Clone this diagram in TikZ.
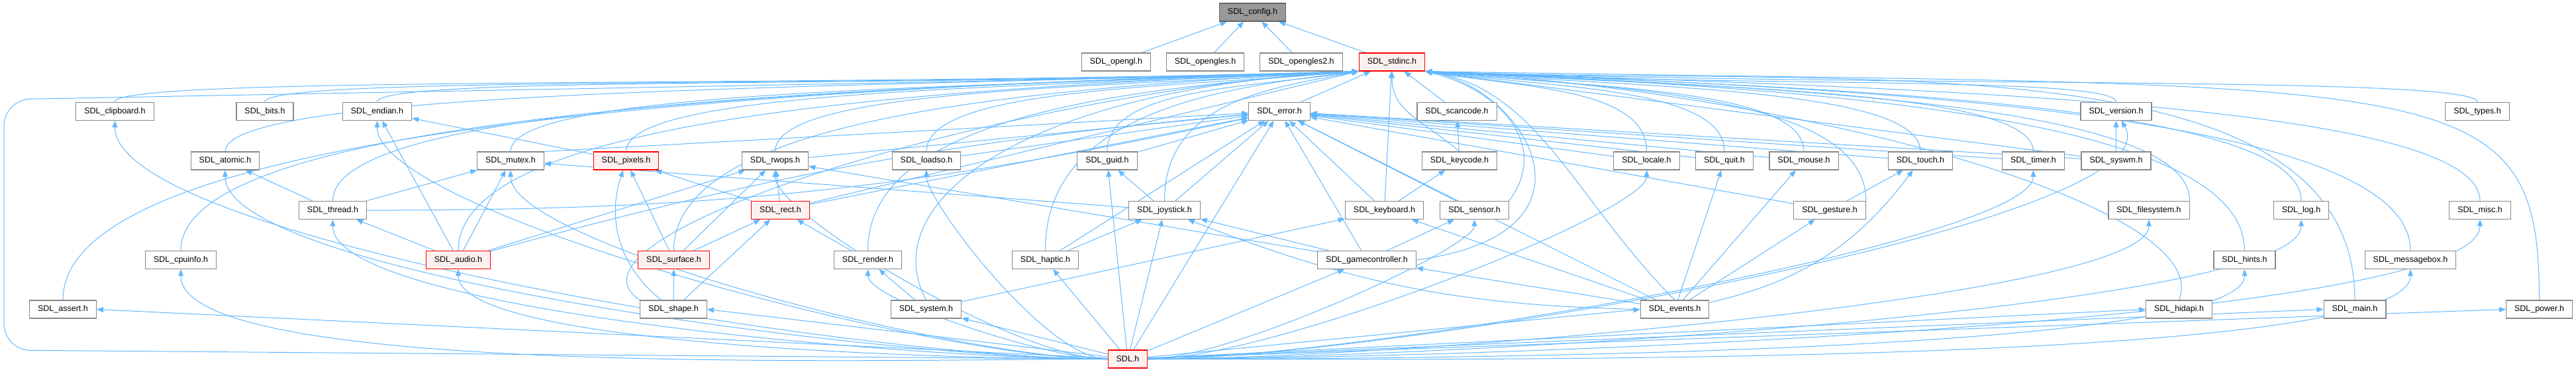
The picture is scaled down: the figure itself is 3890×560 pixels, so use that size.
\documentclass[tikz,border=0pt]{standalone}
\usepackage{fontspec}
\setmainfont{Liberation Sans}
\usepackage{tikz}
\usetikzlibrary{arrows.meta}
\definecolor{linkblue}{HTML}{63B8FF}
\definecolor{boxgray}{HTML}{888888}
\definecolor{cutred}{HTML}{FF0000}
\definecolor{cutfill}{HTML}{FFF0F0}
\definecolor{rootfill}{HTML}{999999}
\definecolor{rootedge}{HTML}{666666}
\pgfdeclarelayer{edges}
\pgfsetlayers{edges,main}

\begin{document}
\begin{tikzpicture}[
  x=0.25pt, y=0.25pt,
  hdr/.style={rectangle, draw=boxgray, fill=white, line width=0.3pt, minimum height=6.75pt, inner xsep=3.125pt, inner ysep=0pt, font=\fontsize{3.125}{3.6}\selectfont},
  cut/.style={hdr, draw=cutred, fill=cutfill},
  root/.style={hdr, draw=rootedge, fill=rootfill},
  dep/.style={draw=linkblue, line width=0.25pt, -{Triangle[length=2.5pt,width=2pt]}},
  lfan/.style={out=180, in=-90, out looseness=0.6, in looseness=0.3},
  rfan/.style={out=0, in=-90, out looseness=0.6, in looseness=0.2}
]
\useasboundingbox (0,0) rectangle (3890,-560);
\node[root] (config) at (1891.5,-18.5) {SDL\_config.h};
\node[hdr] (opengl) at (1685.5,-93.5) {SDL\_opengl.h};
\node[hdr] (opengles) at (1820,-93.5) {SDL\_opengles.h};
\node[hdr] (opengles2) at (1965,-93.5) {SDL\_opengles2.h};
\node[cut] (stdinc) at (2102,-93.5) {SDL\_stdinc.h};
\node[hdr] (clipboard) at (173.5,-168) {SDL\_clipboard.h};
\node[hdr] (bits) at (400,-168) {SDL\_bits.h};
\node[hdr] (endian) at (569.5,-168) {SDL\_endian.h};
\node[hdr] (error) at (1932,-168) {SDL\_error.h};
\node[hdr] (scancode) at (2200,-168) {SDL\_scancode.h};
\node[hdr] (version) at (3195.5,-168) {SDL\_version.h};
\node[hdr] (types) at (3741,-168) {SDL\_types.h};
\node[hdr] (atomic) at (340,-242.5) {SDL\_atomic.h};
\node[hdr] (mutex) at (771,-242.5) {SDL\_mutex.h};
\node[cut] (pixels) at (945.5,-242.5) {SDL\_pixels.h};
\node[hdr] (rwops) at (1170.5,-242.5) {SDL\_rwops.h};
\node[hdr] (loadso) at (1399,-242.5) {SDL\_loadso.h};
\node[hdr] (guid) at (1672,-242.5) {SDL\_guid.h};
\node[hdr] (keycode) at (2204,-242.5) {SDL\_keycode.h};
\node[hdr] (locale) at (2486.5,-242.5) {SDL\_locale.h};
\node[hdr] (quit) at (2604,-242.5) {SDL\_quit.h};
\node[hdr] (mouse) at (2724,-242.5) {SDL\_mouse.h};
\node[hdr] (touch) at (2900,-242.5) {SDL\_touch.h};
\node[hdr] (timer) at (3070.5,-242.5) {SDL\_timer.h};
\node[hdr] (syswm) at (3195.5,-242.5) {SDL\_syswm.h};
\node[hdr] (thread) at (502.5,-317) {SDL\_thread.h};
\node[cut] (rect) at (1178.5,-317) {SDL\_rect.h};
\node[hdr] (joystick) at (1758.5,-317) {SDL\_joystick.h};
\node[hdr] (keyboard) at (2090.5,-317) {SDL\_keyboard.h};
\node[hdr] (sensor) at (2226.5,-317) {SDL\_sensor.h};
\node[hdr] (gesture) at (2763,-317) {SDL\_gesture.h};
\node[hdr] (filesystem) at (3245,-317) {SDL\_filesystem.h};
\node[hdr] (log) at (3475,-317) {SDL\_log.h};
\node[hdr] (misc) at (3745,-317) {SDL\_misc.h};
\node[hdr] (cpuinfo) at (273,-392) {SDL\_cpuinfo.h};
\node[cut] (audio) at (692,-392) {SDL\_audio.h};
\node[cut] (surface) at (1017.5,-392) {SDL\_surface.h};
\node[hdr] (render) at (1310.5,-392) {SDL\_render.h};
\node[hdr] (haptic) at (1578.5,-392) {SDL\_haptic.h};
\node[hdr] (gamecontroller) at (2064,-392) {SDL\_gamecontroller.h};
\node[hdr] (hints) at (3389.5,-392) {SDL\_hints.h};
\node[hdr] (messagebox) at (3640,-392) {SDL\_messagebox.h};
\node[hdr] (assert) at (95,-466.5) {SDL\_assert.h};
\node[hdr] (shape) at (1017,-466.5) {SDL\_shape.h};
\node[hdr] (system) at (1398.5,-466.5) {SDL\_system.h};
\node[hdr] (events) at (2529,-466.5) {SDL\_events.h};
\node[hdr] (hidapi) at (3290.5,-466.5) {SDL\_hidapi.h};
\node[hdr] (main) at (3556,-466.5) {SDL\_main.h};
\node[hdr] (power) at (3834.5,-466.5) {SDL\_power.h};
\node[cut] (SDL) at (1703,-541.5) {SDL.h};
\begin{pgfonlayer}{edges}
\draw[dep] (opengl) -- (config);
\draw[dep] (opengles) -- (config);
\draw[dep] (opengles2) -- (config);
\draw[dep] (stdinc) -- (config);
\draw[dep] (assert.north) .. controls +(0,263) and +(-880,-25) .. (stdinc.south west);
\draw[dep] (clipboard.north) .. controls +(0,40) and +(-845,-25) .. (stdinc.south west);
\draw[dep] (bits.north) .. controls +(0,40) and +(-743,-25) .. (stdinc.south west);
\draw[dep] (endian.north) .. controls +(0,40) and +(-667,-25) .. (stdinc.south west);
\draw[dep] (cpuinfo.north) .. controls +(0,208) and +(-800,-25) .. (stdinc.south west);
\draw[dep] (atomic.north) .. controls +(0,95) and +(-770,-25) .. (stdinc.south west);
\draw[dep] (thread.north) .. controls +(0,150) and +(-697,-25) .. (stdinc.south west);
\draw[dep] (audio.north) .. controls +(0,208) and +(-612,-25) .. (stdinc.south west);
\draw[dep] (mutex.north) .. controls +(0,95) and +(-576,-25) .. (stdinc.south west);
\draw[dep] (pixels.north) .. controls +(0,95) and +(-498,-25) .. (stdinc.south west);
\draw[dep] (rwops.north) .. controls +(0,95) and +(-396,-25) .. (stdinc.south west);
\draw[dep] (rect) -- (stdinc.south west);
\draw[dep] (surface.north) .. controls +(0,208) and +(-465,-25) .. (stdinc.south west);
\draw[dep] (shape.north west) .. controls +(-150,100) and +(-500,-25) .. (stdinc.south west);
\draw[dep] (render.north) .. controls +(0,208) and +(-333,-25) .. (stdinc.south west);
\draw[dep] (loadso.north) .. controls +(0,95) and +(-294,-25) .. (stdinc.south west);
\draw[dep] (system.north) .. controls +(-80,150) and +(-500,-25) .. (stdinc.south west);
\draw[dep] (guid.north) .. controls +(0,95) and +(-171,-25) .. (stdinc.south west);
\draw[dep] (haptic.north) .. controls +(0,208) and +(-213,-25) .. (stdinc.south west);
\draw[dep] (joystick.north) .. controls +(0,150) and +(-132,-25) .. (stdinc.south west);
\draw[dep] (error) -- (stdinc);
\draw[dep] (scancode) -- (stdinc);
\draw[dep] (keyboard) -- (stdinc);
\draw[dep] (keycode.north) .. controls +(-60,50) and +(0,-60) .. (stdinc.south);
\draw[dep] (sensor.north east) .. controls +(60,80) and +(120,-30) .. (stdinc.south east);
\draw[dep] (gamecontroller.east) .. controls +(300,40) and +(150,-25) .. (stdinc.south east);
\draw[dep] (events.north) .. controls +(-150,150) and +(170,-25) .. (stdinc.south east);
\draw[dep] (locale.north) .. controls +(0,95) and +(151,-25) .. (stdinc.south east);
\draw[dep] (quit.north) .. controls +(0,95) and +(203,-25) .. (stdinc.south east);
\draw[dep] (mouse.north) .. controls +(0,95) and +(257,-25) .. (stdinc.south east);
\draw[dep] (touch.north) .. controls +(0,95) and +(337,-25) .. (stdinc.south east);
\draw[dep] (timer.north) .. controls +(0,95) and +(413,-25) .. (stdinc.south east);
\draw[dep] (syswm) -- (stdinc.south east);
\draw[dep] (version.north) .. controls +(0,40) and +(469,-25) .. (stdinc.south east);
\draw[dep] (types.north) .. controls +(0,40) and +(715,-25) .. (stdinc.south east);
\draw[dep] (gesture.north east) .. controls +(0,163) and +(275,-25) .. (stdinc.south east);
\draw[dep] (filesystem.north east) .. controls +(0,150) and +(520,-25) .. (stdinc.south east);
\draw[dep] (log.north) .. controls +(0,150) and +(595,-25) .. (stdinc.south east);
\draw[dep] (misc.north) .. controls +(0,150) and +(717,-25) .. (stdinc.south east);
\draw[dep] (hints.north) .. controls +(0,208) and +(557,-25) .. (stdinc.south east);
\draw[dep] (messagebox.north) .. controls +(0,208) and +(670,-25) .. (stdinc.south east);
\draw[dep] (hidapi.north) .. controls +(60,150) and +(512,-25) .. (stdinc.south east);
\draw[dep] (main.north) .. controls +(0,400) and +(632,-25) .. (stdinc.south east);
\draw[dep] (power.north) .. controls +(0,353) and +(1548,-25) .. (stdinc.south east);
\draw[dep] (mutex.north east) -- (error);
\draw[dep] (rwops) -- (error);
\draw[dep] (rect) -- (error);
\draw[dep] (audio) to[bend left=5] (error);
\draw[dep] (thread) to[bend right=6] (error);
\draw[dep] (joystick) -- (error);
\draw[dep] (guid) -- (error);
\draw[dep] (loadso) -- (error);
\draw[dep] (sensor) -- (error);
\draw[dep] (keyboard) -- (error);
\draw[dep] (gamecontroller) -- (error);
\draw[dep] (haptic) -- (error);
\draw[dep] (events) -- (error);
\draw[dep] (gesture) -- (error);
\draw[dep] (quit) -- (error);
\draw[dep] (mouse) -- (error);
\draw[dep] (touch) -- (error);
\draw[dep] (timer) -- (error);
\draw[dep] (locale) -- (error);
\draw[dep] (syswm) -- (error);
\draw[dep] (SDL) -- (error);
\draw[dep] (audio) -- (endian);
\draw[dep] (pixels) -- (endian);
\draw[dep] (audio) -- (mutex);
\draw[dep] (thread) -- (mutex);
\draw[dep] (joystick) -- (mutex);
\draw[dep] (thread) -- (atomic);
\draw[dep] (audio) -- (thread);
\draw[dep] (audio) -- (rwops);
\draw[dep] (rect) -- (rwops);
\draw[dep] (surface) -- (rwops);
\draw[dep] (gamecontroller) -- (rwops);
\draw[dep] (rect) -- (pixels);
\draw[dep] (surface) -- (pixels);
\draw[dep] (shape) to[bend left=35] (pixels);
\draw[dep] (surface) -- (rect);
\draw[dep] (shape) -- (rect);
\draw[dep] (render) -- (rect);
\draw[dep] (shape) -- (surface);
\draw[dep] (system) -- (render);
\draw[dep] (system) -- (keyboard);
\draw[dep] (events) -- (keyboard);
\draw[dep] (keyboard) -- (keycode);
\draw[dep] (keycode) -- (scancode);
\draw[dep] (joystick) -- (guid);
\draw[dep] (haptic) -- (joystick);
\draw[dep] (gamecontroller) -- (joystick);
\draw[dep] (events.west) to[bend left=10] (joystick);
\draw[dep] (gamecontroller) -- (sensor);
\draw[dep] (events) -- (gamecontroller);
\draw[dep] (events) -- (mouse);
\draw[dep] (events) -- (quit);
\draw[dep] (events) to[bend right=20] (touch);
\draw[dep] (events) -- (gesture);
\draw[dep] (gesture) -- (touch);
\draw[dep] (syswm) -- (version);
\draw[dep] (SDL) -- (assert.east);
\draw[dep] (SDL) to[lfan] (clipboard);
\draw[dep] (SDL) to[lfan] (cpuinfo);
\draw[dep] (SDL) to[lfan] (atomic);
\draw[dep] (SDL) to[lfan] (endian);
\draw[dep] (SDL) to[lfan] (thread);
\draw[dep] (SDL) to[lfan] (audio);
\draw[dep] (SDL) to[lfan] (mutex);
\draw[dep] (SDL) -- (shape.east);
\draw[dep] (SDL) to[lfan] (rwops);
\draw[dep] (SDL) to[lfan] (loadso);
\draw[dep] (SDL) to[lfan] (render);
\draw[dep] (SDL) -- (system);
\draw[dep] (SDL) -- (guid);
\draw[dep] (SDL) -- (haptic);
\draw[dep] (SDL) -- (joystick);
\draw[dep] (SDL) -- (gamecontroller);
\draw[dep] (SDL) to[rfan] (sensor);
\draw[dep] (SDL) -- (events.west);
\draw[dep] (SDL) to[rfan] (locale);
\draw[dep] (SDL) to[rfan] (timer);
\draw[dep] (SDL) to[rfan, in=-60, in looseness=0.3] (version);
\draw[dep] (SDL) to[rfan] (filesystem);
\draw[dep] (SDL) to[rfan] (log);
\draw[dep] (SDL) to[rfan] (misc);
\draw[dep] (SDL) to[rfan] (hints);
\draw[dep] (SDL) to[rfan] (messagebox);
\draw[dep] (SDL) -- (hidapi.west);
\draw[dep] (SDL) -- (main.west);
\draw[dep] (SDL) -- (power.west);
\draw[dep, rounded corners=10pt] (SDL.west) -- (6,-528) -- (6,-150) -- (1500,-122) -- (stdinc.south west);
\end{pgfonlayer}
\end{tikzpicture}
\end{document}
